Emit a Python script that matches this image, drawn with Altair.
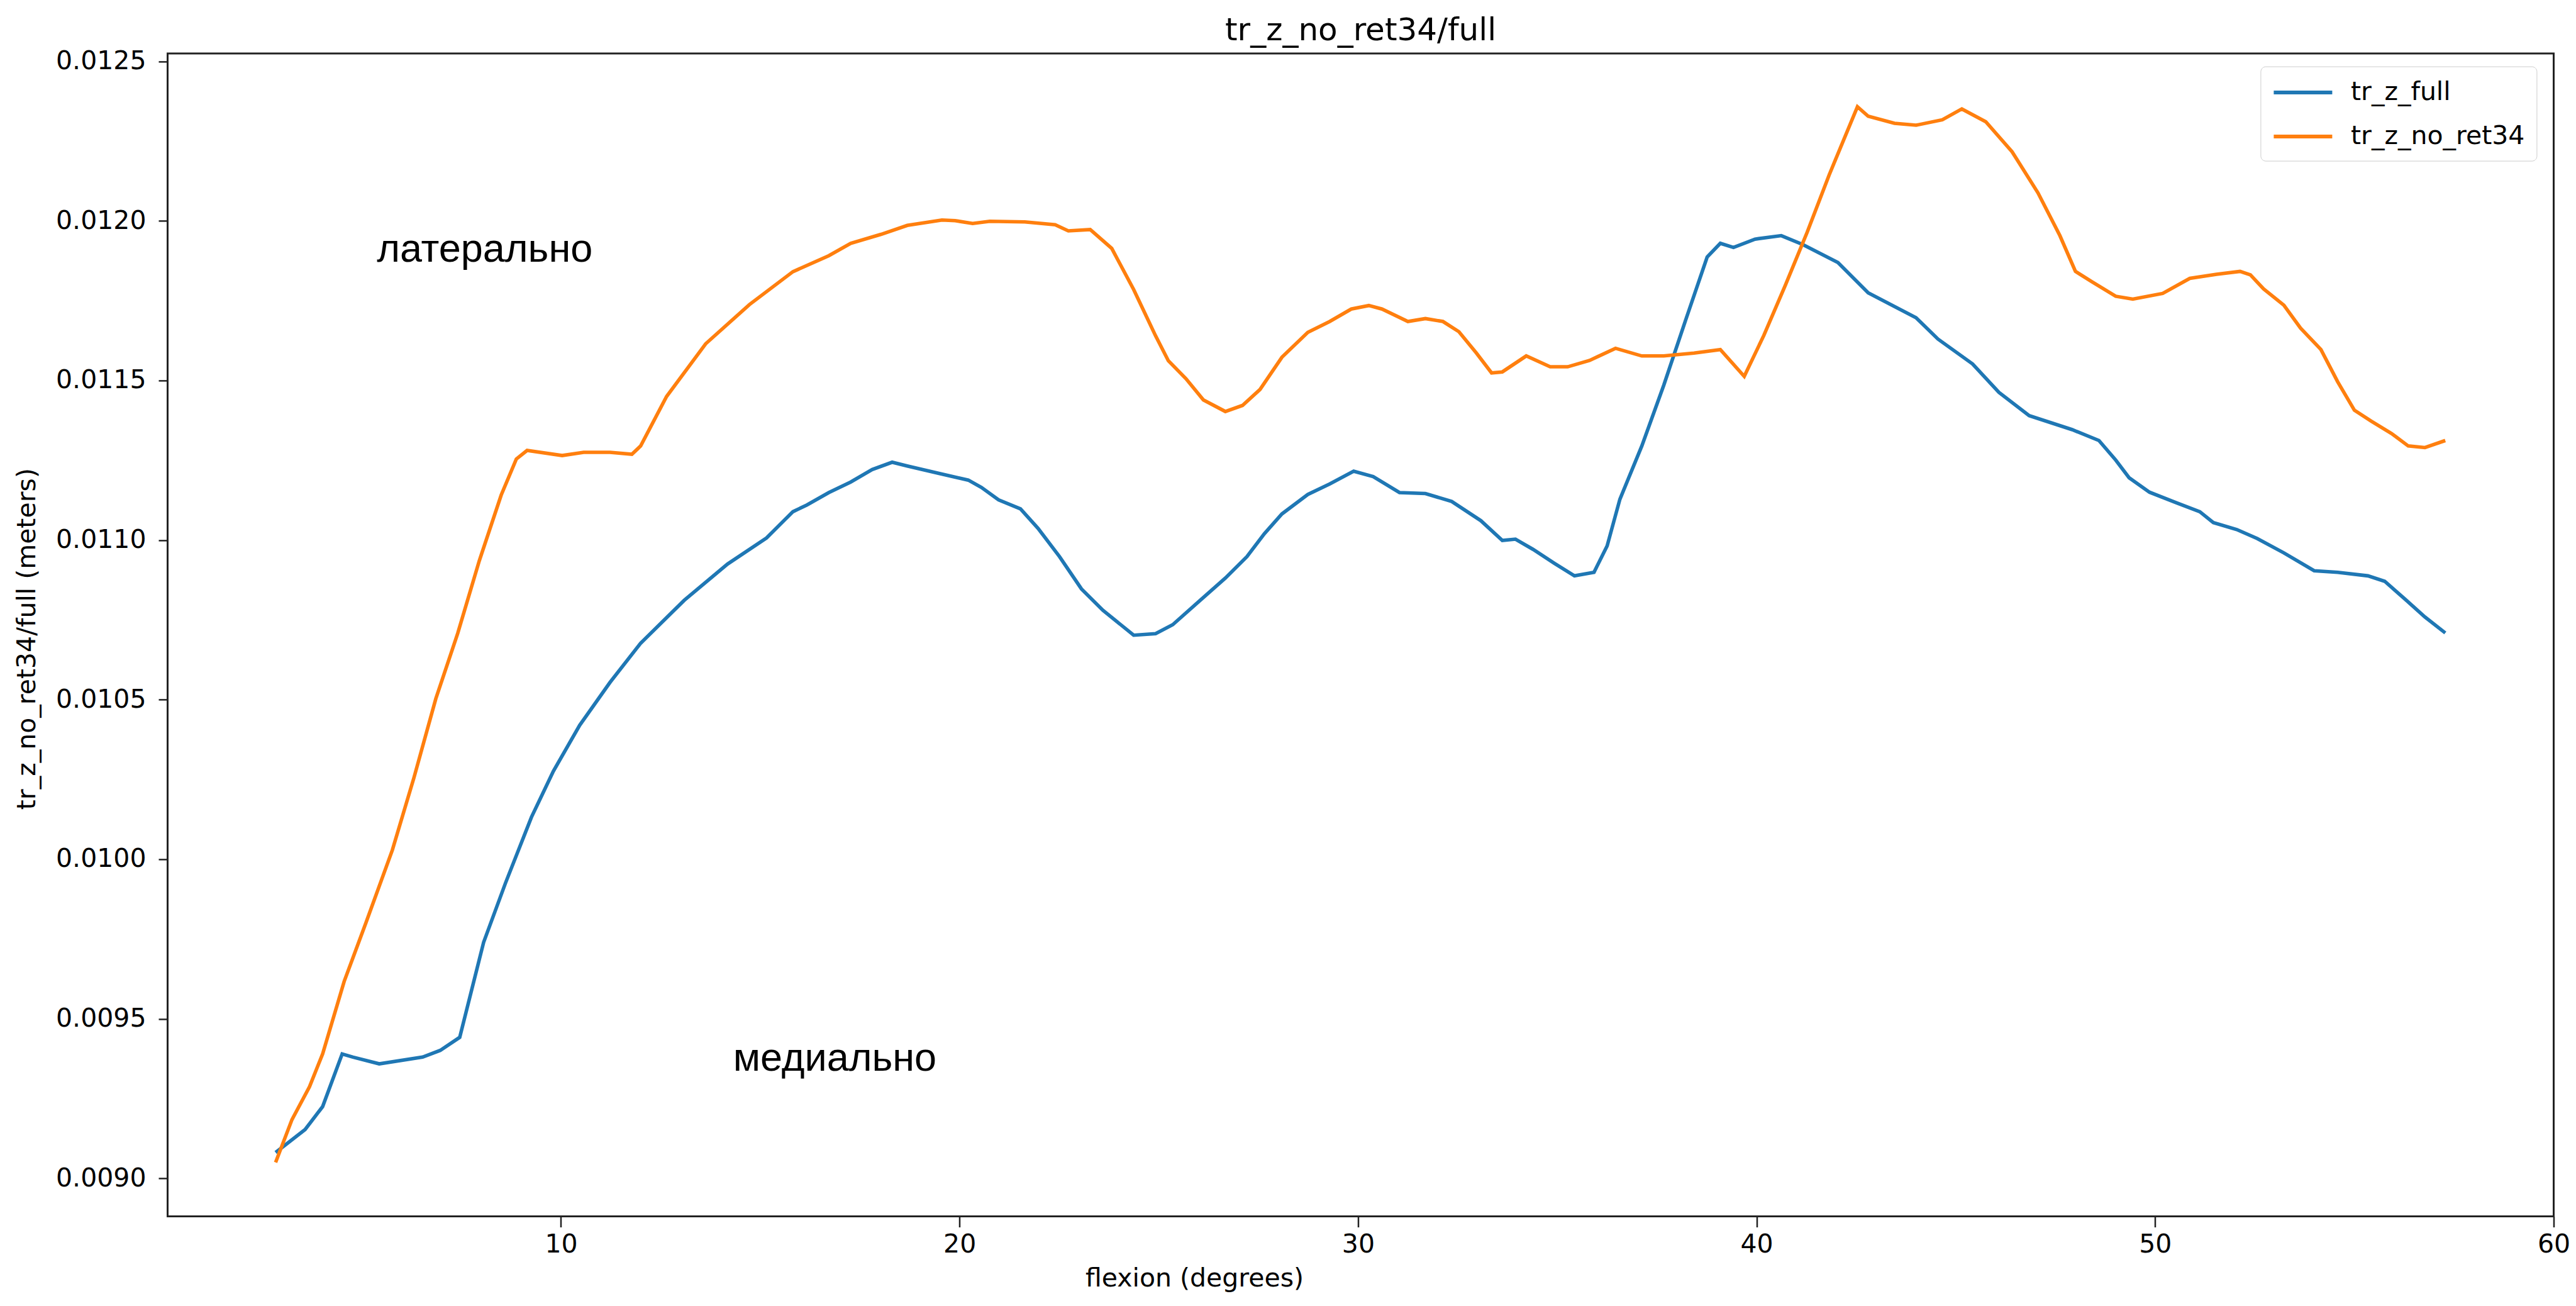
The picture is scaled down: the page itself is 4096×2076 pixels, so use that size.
import altair as alt
import pandas as pd

# ---------------- data ----------------
full_x = [2.84, 3.58, 4.02, 4.51, 4.78, 5.44, 6.53, 6.97, 7.46, 8.06, 8.61, 9.26, 9.81,
          10.47, 11.23, 12.00, 13.09, 14.18, 15.16, 15.82, 16.17, 16.72, 17.27, 17.81,
          18.31, 18.69, 19.45, 20.22, 20.55, 20.98, 21.53, 21.97, 22.51, 23.06, 23.60,
          24.37, 24.92, 25.35, 26.01, 26.67, 27.21, 27.65, 28.09, 28.74, 29.29, 29.89,
          30.38, 31.04, 31.69, 32.35, 33.08, 33.62, 33.95, 34.39, 34.93, 35.43, 35.92,
          36.25, 36.57, 37.12, 37.67, 38.21, 38.76, 39.09, 39.42, 39.96, 40.62, 41.16,
          42.04, 42.80, 44.00, 44.55, 45.42, 46.08, 46.84, 47.92, 48.59, 49.01, 49.35,
          49.86, 50.53, 51.12, 51.46, 52.05, 52.56, 53.23, 53.99, 54.58, 55.34, 55.76,
          56.27, 56.77, 57.28]
full_y = [0.009081, 0.009153, 0.009225, 0.009390, 0.009380, 0.009359, 0.009380, 0.009401,
          0.009442, 0.009740, 0.009926, 0.010132, 0.010276, 0.010420, 0.010554, 0.010677,
          0.010811, 0.010925, 0.011007, 0.011089, 0.011110, 0.011149, 0.011182, 0.011221,
          0.011244, 0.011232, 0.011210, 0.011188, 0.011165, 0.011126, 0.011098, 0.011037,
          0.010948, 0.010847, 0.010780, 0.010702, 0.010707, 0.010735, 0.010808, 0.010881,
          0.010948, 0.011020, 0.011082, 0.011143, 0.011176, 0.011216, 0.011199, 0.011149,
          0.011146, 0.011121, 0.011061, 0.010999, 0.011003, 0.010971, 0.010927, 0.010888,
          0.010899, 0.010982, 0.011128, 0.011295, 0.011485, 0.011686, 0.011887, 0.011930,
          0.011917, 0.011943, 0.011954, 0.011926, 0.011870, 0.011775, 0.011697, 0.011630,
          0.011552, 0.011463, 0.011390, 0.011346, 0.011312, 0.011251, 0.011195, 0.011150,
          0.011117, 0.011089, 0.011055, 0.011033, 0.011005, 0.010960, 0.010904, 0.010899,
          0.010888, 0.010871, 0.010815, 0.010759, 0.010709]

noret_x = [2.84, 3.25, 3.69, 4.02, 4.56, 5.11, 5.77, 6.31, 6.86, 7.41, 7.95, 8.50, 8.88,
           9.15, 10.03, 10.57, 11.23, 11.78, 12.00, 12.65, 13.63, 14.73, 15.82, 16.72,
           17.27, 18.03, 18.69, 19.56, 19.89, 20.33, 20.76, 21.64, 22.40, 22.73, 23.28,
           23.82, 24.37, 24.92, 25.24, 25.68, 26.12, 26.67, 27.10, 27.54, 28.09, 28.74,
           29.29, 29.83, 30.27, 30.60, 31.25, 31.69, 32.13, 32.53, 32.97, 33.35, 33.62,
           34.22, 34.82, 35.26, 35.81, 36.46, 37.12, 37.67, 38.43, 39.09, 39.69, 40.18,
           40.72, 41.27, 41.82, 42.53, 42.80, 43.46, 44.00, 44.66, 45.15, 45.75, 46.41,
           47.06, 47.61, 48.00, 48.42, 49.01, 49.44, 50.19, 50.87, 51.54, 52.13, 52.39,
           52.72, 53.23, 53.65, 54.16, 54.58, 55.00, 55.42, 55.93, 56.35, 56.77, 57.28]
noret_y = [0.009050, 0.009184, 0.009287, 0.009390, 0.009617, 0.009802, 0.010029, 0.010255,
           0.010503, 0.010708, 0.010935, 0.011141, 0.011254, 0.011281, 0.011265, 0.011275,
           0.011275, 0.011269, 0.011295, 0.011450, 0.011615, 0.011738, 0.011841, 0.011891,
           0.011930, 0.011958, 0.011986, 0.012003, 0.012001, 0.011992, 0.011999, 0.011997,
           0.011988, 0.011969, 0.011973, 0.011914, 0.011785, 0.011640, 0.011562, 0.011506,
           0.011439, 0.011403, 0.011422, 0.011472, 0.011573, 0.011651, 0.011685, 0.011724,
           0.011735, 0.011724, 0.011685, 0.011694, 0.011685, 0.011653, 0.011586, 0.011524,
           0.011527, 0.011577, 0.011543, 0.011543, 0.011563, 0.011601, 0.011577, 0.011577,
           0.011586, 0.011597, 0.011513, 0.011641, 0.011798, 0.011965, 0.012144, 0.012358,
           0.012328, 0.012306, 0.012300, 0.012317, 0.012351, 0.012311, 0.012217, 0.012088,
           0.011954, 0.011842, 0.011809, 0.011764, 0.011755, 0.011773, 0.011820, 0.011833,
           0.011842, 0.011831, 0.011787, 0.011736, 0.011664, 0.011597, 0.011496, 0.011407,
           0.011373, 0.011334, 0.011295, 0.011290, 0.011312]

series_names = ["tr_z_full", "tr_z_no_ret34"]
series_colors = ["#1f77b4", "#ff7f0e"]

annot_x = [5.38, 14.32]
annot_y = [0.011872, 0.009337]
annot_text = ["латерально", "медиально"]

x_ticks = [10, 20, 30, 40, 50, 60]
y_ticks = [0.0090, 0.0095, 0.0100, 0.0105, 0.0110, 0.0115, 0.0120, 0.0125]
x_domain = [0.13, 60]
y_domain = [0.008881, 0.012525]

# ---------------- layout (scaled 0.987 from reference) ----------------
S = 0.987
W = 3844 * S
H = 1873 * S
PAD_L = 270 * S - 8
PAD_T = 86 * S - 8
PAD_R = 4080 - PAD_L - W
PAD_B = 2060 - PAD_T - H

FONT = "DejaVu Sans"
LBL = 41

lines = pd.DataFrame(
    [{"flexion": x, "value": y, "series": series_names[0]} for x, y in zip(full_x, full_y)]
    + [{"flexion": x, "value": y, "series": series_names[1]} for x, y in zip(noret_x, noret_y)]
)
annots = pd.DataFrame({"flexion": annot_x, "value": annot_y, "label": annot_text})

xscale = alt.Scale(domain=x_domain, nice=False, zero=False)
yscale = alt.Scale(domain=y_domain, nice=False, zero=False)

x_axis = alt.Axis(
    title="flexion (degrees)", values=x_ticks, format="d", grid=False, domain=False,
    tickSize=17, tickWidth=2.5, tickColor="#222", labelFontSize=LBL, labelFont=FONT,
    labelColor="#000", labelPadding=8, labelFlush=False, labelOverlap=False, labelBound=False,
    titleFontSize=LBL, titleFont=FONT, titleFontWeight="normal", titleColor="#000",
    titleBaseline="middle", titleY=(2059 - 1959) * S, titleX=(1924 - 270) * S,
)
y_axis = alt.Axis(
    title="tr_z_no_ret34/full (meters)", values=y_ticks, format=".4f", grid=False, domain=False,
    tickSize=14.5, tickWidth=2.5, tickColor="#222", labelFontSize=LBL, labelFont=FONT,
    labelColor="#000", labelPadding=20, labelOverlap=False, labelBound=False, labelFlush=False,
    titleFontSize=LBL, titleFont=FONT, titleFontWeight="normal", titleColor="#000",
    titleAngle=270, titleBaseline="middle", titleAlign="center",
    titleX=44 * S - 270 * S, titleY=H / 2 + 6,
)

# legend: a 93 px long horizontal stroke drawn as a custom path on a 41 px symbol cell
SYM_D = 41
SYM_LEN = 93
half = SYM_LEN / SYM_D
legend = alt.Legend(
    title=None, orient="none", legendX=3612.4 - 18 - 270 * S, legendY=20.7,
    symbolType=f"M {-half:.4f} 0 L {half:.4f} 0", symbolSize=SYM_D * SYM_D, symbolStrokeWidth=6,
    symbolOffset=(SYM_LEN - SYM_D) / 2, symbolFillColor="transparent",
    labelFontSize=LBL, labelFont=FONT, labelColor="#000",
    labelOffset=SYM_LEN - SYM_D + 32.6 - 32, labelLimit=800,
    padding=18, rowPadding=26, strokeColor="#cccccc", fillColor="rgba(255,255,255,0.8)",
    cornerRadius=8,
)

line_layer = alt.Chart(lines).mark_line(strokeWidth=5.6).encode(
    x=alt.X("flexion:Q", scale=xscale, axis=x_axis),
    y=alt.Y("value:Q", scale=yscale, axis=y_axis),
    color=alt.Color("series:N", scale=alt.Scale(domain=series_names, range=series_colors), legend=legend),
    order=alt.Order("flexion:Q"),
)

text_layer = alt.Chart(annots).mark_text(
    align="left", baseline="alphabetic", font="Liberation Sans", fontSize=63, color="#000"
).encode(
    x=alt.X("flexion:Q", scale=xscale),
    y=alt.Y("value:Q", scale=yscale),
    text="label:N",
)

chart = alt.layer(line_layer, text_layer).properties(
    width=W, height=H,
    background="white",
    title=alt.TitleParams("tr_z_no_ret34/full", fontSize=50, font=FONT, fontWeight="normal",
                          color="#000", anchor="middle", frame="group", offset=22.7,
                          baseline="alphabetic", dy=60),
    autosize=alt.AutoSizeParams(type="none"),
    padding={"left": PAD_L, "top": PAD_T, "right": PAD_R, "bottom": PAD_B},
).configure_view(stroke="#222", strokeWidth=3)

chart.save("out.html", embed_options={"renderer": "svg", "actions": False})
